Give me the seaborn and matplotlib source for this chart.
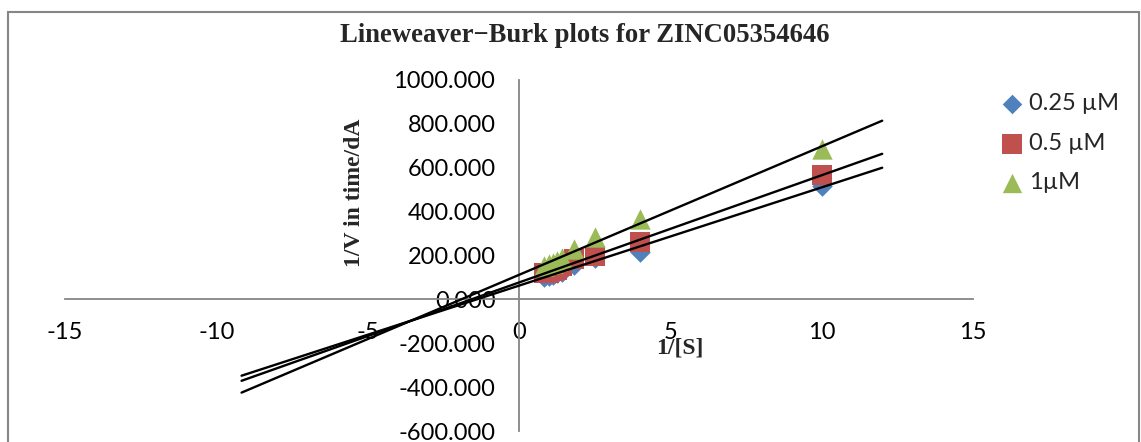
import numpy as np
import pandas as pd
import matplotlib
matplotlib.use("Agg")
import matplotlib.pyplot as plt
from matplotlib.patches import Rectangle
import seaborn as sns

# ---- data ----
substrate = [1.2, 1.0, 0.9, 0.8, 0.7, 0.55, 0.4, 0.25, 0.1]
inv_s = [1.0 / s for s in substrate]
v_025 = [100, 105, 110, 118, 125, 155, 190, 218, 515]
v_05 = [118, 122, 128, 135, 150, 182, 198, 262, 568]
v_1 = [150, 160, 165, 175, 190, 230, 285, 368, 685]
series_labels = ["0.25 µM", "0.5 µM", "1µM"]
x_ticks = [-15, -10, -5, 0, 5, 10, 15]
y_ticks = [-600, -400, -200, 0, 200, 400, 600, 800, 1000]

title = "Lineweaver\u2212Burk plots for ZINC05354646"
x_label = "1/[S]"
y_label = "1/V in time/dA"

# ---- style ----
sns.set_style("white")
plt.rcParams["font.family"] = ["Lato", "DejaVu Sans"]

colors = ["#4F81BD", "#C0504D", "#9BBB59"]
markers = ["D", "s", "^"]
sizes = [110, 220, 215]
axis_grey = "#868686"

fig = plt.figure(figsize=(11.41, 4.42), dpi=100)
ax = fig.add_axes([65 / 1141, 11 / 442, 908 / 1141, 351 / 442])

rows = []
for lab, vals in zip(series_labels, [v_025, v_05, v_1]):
    for xv, yv in zip(inv_s, vals):
        rows.append({"inv_s": xv, "v": yv, "series": lab})
df = pd.DataFrame(rows)

for lab, col, mk, sz in zip(series_labels, colors, markers, sizes):
    sub = df[df["series"] == lab]
    sns.scatterplot(data=sub, x="inv_s", y="v", color=col, marker=mk, s=sz,
                    linewidth=0, label=lab, ax=ax, zorder=3)

# linear trendlines, forecast 10 units backward and 2 forward
for lab in series_labels:
    sub = df[df["series"] == lab]
    slope, icpt = np.polyfit(sub["inv_s"], sub["v"], 1)
    xs = np.array([sub["inv_s"].min() - 10, sub["inv_s"].max() + 2])
    sns.lineplot(x=xs, y=slope * xs + icpt, color="black", linewidth=1.7,
                 ax=ax, legend=False, zorder=4)

ax.set_xlim(x_ticks[0], x_ticks[-1])
ax.set_ylim(y_ticks[0], y_ticks[-1])
ax.set_xticks(x_ticks)
ax.set_yticks(y_ticks)
ax.set_xticklabels([f"{t:d}" for t in x_ticks])
ax.set_yticklabels([f"{t:.3f}" for t in y_ticks])
ax.set_xlabel("")
ax.set_ylabel("")

for s in ["top", "right"]:
    ax.spines[s].set_visible(False)
ax.spines["left"].set_position(("data", 0))
ax.spines["bottom"].set_position(("data", 0))
for s in ["left", "bottom"]:
    ax.spines[s].set_color(axis_grey)
    ax.spines[s].set_linewidth(1.3)
ax.tick_params(axis="both", which="major", direction="out", length=6,
               width=1.3, color=axis_grey, labelsize=17, labelcolor="black")
ax.tick_params(axis="x", pad=10)
ax.tick_params(axis="y", pad=11)
ax.patch.set_alpha(0)

leg = ax.legend(loc="upper left", bbox_to_anchor=(992 / 1141, 1 - 84 / 442),
                bbox_transform=fig.transFigure, frameon=False, fontsize=17,
                handletextpad=0.25, labelspacing=0.78, handlelength=0.9,
                markerscale=0.95, borderaxespad=0)

serif = ["Liberation Serif", "DejaVu Serif"]
fig.text(585 / 1141, 1 - 35 / 442, title, ha="center", va="center",
         fontsize=19.2, fontweight="bold", family=serif)
fig.text(355 / 1141, 1 - 193 / 442, y_label, ha="center", va="center",
         rotation=90, fontsize=17, fontweight="bold", family=serif)
fig.text(680 / 1141, 1 - 348 / 442, x_label, ha="center", va="center",
         fontsize=17, fontweight="bold", family=serif)

fig.patches.append(Rectangle((8 / 1141, -0.05), (1139 - 8) / 1141, (442 - 12) / 442 + 0.05,
                             transform=fig.transFigure, fill=False,
                             edgecolor=axis_grey, linewidth=1.5))

fig.savefig("out.png", dpi=100)
